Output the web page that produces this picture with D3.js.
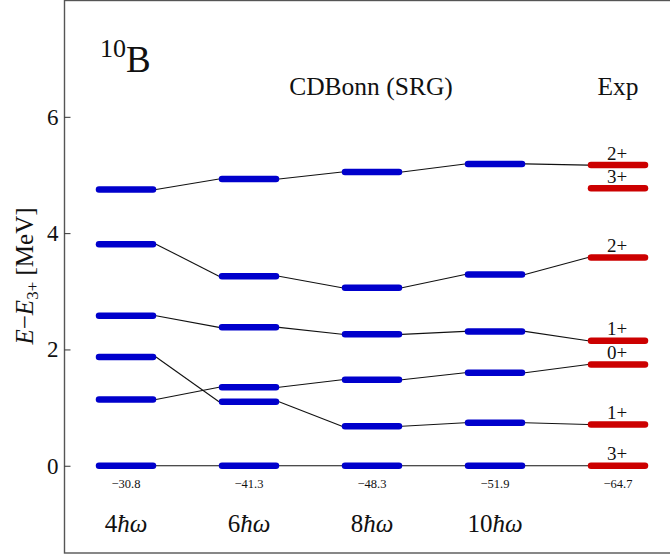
<!DOCTYPE html>
<html>
<head>
<meta charset="utf-8">
<script src="https://cdn.jsdelivr.net/npm/d3@7"></script>
<style>
  html, body { margin: 0; padding: 0; background: #fff; }
  svg, svg text { font-family: "Liberation Serif", "Times New Roman", serif !important; }
</style>
</head>
<body>
<svg id="chart" width="670" height="554"></svg>
<script>
// Basis-size columns (N_max ħω) plus experiment
const columns = ["4", "6", "8", "10", "Exp"];
const groundEnergies = [-30.8, -41.3, -48.3, -51.9, -64.7];

// Excitation energies (MeV) relative to the 3+ ground state, one track per state,
// values in column order 4ħω, 6ħω, 8ħω, 10ħω, Exp
const track3plus = [0, 0, 0, 0, 0];
const track1plusLow = [1.87, 1.10, 0.68, 0.74, 0.71];
const track0plus = [1.14, 1.35, 1.48, 1.60, 1.74];
const track1plusHigh = [2.58, 2.38, 2.26, 2.31, 2.15];
const track2plusLow = [3.81, 3.26, 3.06, 3.29, 3.58];
const track2plusHigh = [4.75, 4.93, 5.05, 5.19, 5.17];
const tracks = [track3plus, track1plusLow, track0plus, track1plusHigh, track2plusLow, track2plusHigh];

// Experimental levels with their spin-parity labels
const expEnergies = [0, 0.71, 1.74, 2.15, 3.58, 4.77, 5.17];
const expLabels = ["3+", "1+", "0+", "1+", "2+", "3+", "2+"];

const yTicks = [0, 2, 4, 6];

const svg = d3.select("#chart");
const W = 670;
const frameLeft = 64.5, frameTop = 0.5, frameBottom = 553;

const y = d3.scaleLinear().domain([-1.5, 8]).range([frameBottom, frameTop]);
const x = d3.scalePoint().domain(columns).range([126, 618]);
const halfBar = 27;

// Frame
svg.append("rect")
  .attr("x", frameLeft).attr("y", frameTop)
  .attr("width", W + 5 - frameLeft).attr("height", frameBottom - frameTop)
  .attr("fill", "none").attr("stroke", "#555").attr("stroke-width", 1.4);

// Y axis ticks (pointing inward) and labels
const yAxis = d3.axisLeft(y).tickValues(yTicks).tickSize(-6).tickPadding(6)
  .tickFormat(d3.format("d"));
const ya = svg.append("g").attr("transform", `translate(${frameLeft},0)`).call(yAxis);
ya.attr("font-family", null);
ya.select(".domain").remove();
ya.selectAll(".tick line").attr("stroke", "#333").attr("stroke-width", 1);
ya.selectAll(".tick text").attr("font-size", 23).attr("fill", "#111");

// Y axis title
const yt = svg.append("text")
  .attr("transform", `translate(33,276) rotate(-90)`)
  .attr("text-anchor", "middle").attr("font-size", 25).attr("fill", "#111");
yt.append("tspan").attr("font-style", "italic").text("E");
yt.append("tspan").text("\u2212");
yt.append("tspan").attr("font-style", "italic").text("E");
yt.append("tspan").attr("font-size", 17).attr("dy", 5).text("3+");
yt.append("tspan").attr("dy", -5).text(" [MeV]");

// Connecting lines between adjacent columns
const links = [];
tracks.forEach(t => {
  for (let i = 0; i < columns.length - 1; i++) {
    links.push({ x1: x(columns[i]) + halfBar + 3, y1: y(t[i]),
                 x2: x(columns[i + 1]) - halfBar - 3, y2: y(t[i + 1]) });
  }
});
svg.append("g").selectAll("line").data(links).join("line")
  .attr("x1", d => d.x1).attr("y1", d => d.y1)
  .attr("x2", d => d.x2).attr("y2", d => d.y2)
  .attr("stroke", "#111").attr("stroke-width", 1.1);

// Theory levels (blue)
const theory = [];
columns.slice(0, 4).forEach((c, i) => {
  tracks.forEach(t => theory.push({ col: c, e: t[i] }));
});
svg.append("g").selectAll("line").data(theory).join("line")
  .attr("x1", d => x(d.col) - halfBar).attr("x2", d => x(d.col) + halfBar)
  .attr("y1", d => y(d.e)).attr("y2", d => y(d.e))
  .attr("stroke", "#0000cc").attr("stroke-width", 6.5).attr("stroke-linecap", "round");

// Experimental levels (red)
const exp = expEnergies.map((e, i) => ({ e, label: expLabels[i] }));
svg.append("g").selectAll("line").data(exp).join("line")
  .attr("x1", x("Exp") - halfBar).attr("x2", x("Exp") + halfBar)
  .attr("y1", d => y(d.e)).attr("y2", d => y(d.e))
  .attr("stroke", "#cc0000").attr("stroke-width", 6.5).attr("stroke-linecap", "round");
svg.append("g").selectAll("text").data(exp).join("text")
  .attr("x", x("Exp") - 1).attr("y", d => y(d.e) - 5.5)
  .attr("text-anchor", "middle").attr("font-size", 19).attr("fill", "#111")
  .text(d => d.label);

// Ground-state energies under each column
svg.append("g").selectAll("text").data(columns).join("text")
  .attr("x", d => x(d)).attr("y", 488)
  .attr("text-anchor", "middle").attr("font-size", 12.5).attr("fill", "#111")
  .text((d, i) => d3.format(".1f")(groundEnergies[i]).replace("-", "\u2212"));

// Column labels (N ħω)
const colLabels = svg.append("g").selectAll("text").data(columns.slice(0, 4)).join("text")
  .attr("x", d => x(d)).attr("y", 532)
  .attr("text-anchor", "middle").attr("font-size", 25).attr("fill", "#111");
colLabels.append("tspan").text(d => d);
colLabels.append("tspan").attr("font-style", "italic").text("\u0127\u03c9");

// Headers
svg.append("text").attr("x", 371).attr("y", 95).attr("text-anchor", "middle")
  .attr("font-size", 25.5).attr("fill", "#111").text("CDBonn (SRG)");
svg.append("text").attr("x", 618).attr("y", 95).attr("text-anchor", "middle")
  .attr("font-size", 25.5).attr("fill", "#111").text("Exp");

// Nucleus label
const nuc = svg.append("text").attr("x", 100).attr("y", 72).attr("fill", "#111");
nuc.append("tspan").attr("font-size", 26).attr("dy", -15).text("10");
nuc.append("tspan").attr("font-size", 37).attr("dy", 15).text("B");
</script>
</body>
</html>
